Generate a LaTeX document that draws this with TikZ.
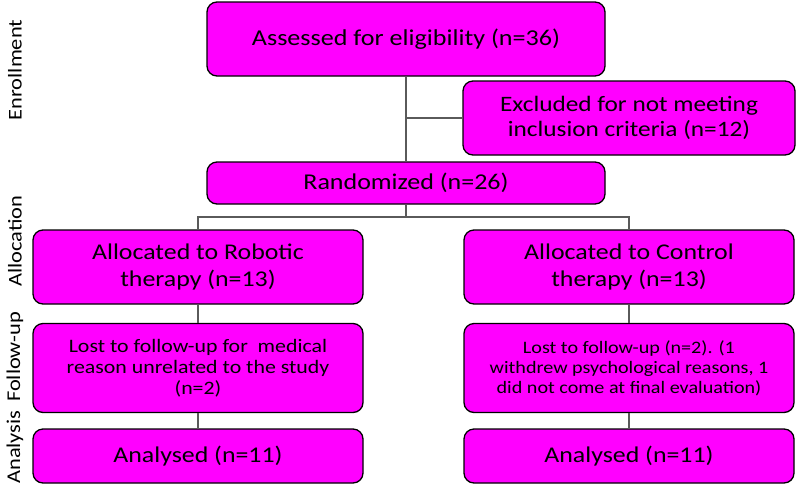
\documentclass[tikz,border=0pt]{standalone}
\usepackage{fontspec}
\setmainfont{Carlito}[FakeStretch=1.15]
\usetikzlibrary{positioning}
\definecolor{boxmag}{RGB}{255,0,255}
\definecolor{linegray}{RGB}{90,90,90}

\begin{document}
\begin{tikzpicture}[x=1pt,y=-1pt,every node/.style={inner sep=0pt,align=center},
	box/.style={draw=black,line width=1.3pt,fill=boxmag,rounded corners=10pt,text=black},
	phase/.style={rotate=90,font=\fontsize{19.5}{22}\selectfont},
	link/.style={draw=linegray,line width=1.2pt}]

\useasboundingbox (0,0) rectangle (797,488);

% enrollment
\node[box,minimum width=398,minimum height=74,font=\fontsize{22.7}{27}\selectfont] (assess) at (406,39) {Assessed for eligibility (n=36)};
 \node[box,minimum width=332,minimum height=74,font=\fontsize{22}{25}\selectfont] (excl) at (629,118) {Excluded for not meeting\\inclusion criteria (n=12)};
	\node[box,minimum width=398,minimum height=42,font=\fontsize{22.6}{27}\selectfont] (rand) at (406,183) {Randomized (n=26)};

% two arms
	\node[box,minimum width=330,minimum height=74,font=\fontsize{22.5}{27}\selectfont] (robot) at (198,267) {Allocated to Robotic\\therapy (n=13)};
	\node[box,minimum width=330,minimum height=74,font=\fontsize{22.5}{27}\selectfont] (ctrl) at (629,267) {Allocated to Control\\therapy (n=13)};
		\node[box,minimum width=330,minimum height=89,font=\fontsize{19}{21}\selectfont] (lostR) at (198,368) {Lost to follow-up for\ \ medical\\reason unrelated to the study\\(n=2)};
		\node[box,minimum width=330,minimum height=89,font=\fontsize{17.5}{20}\selectfont] (lostC) at (629,368) {Lost to follow-up (n=2). (1\\withdrew psychological reasons, 1\\did not come at final evaluation)};
			\node[box,minimum width=330,minimum height=54,font=\fontsize{22.5}{27}\selectfont] (anaR) at (198,456) {Analysed (n=11)};
			\node[box,minimum width=330,minimum height=54,font=\fontsize{22.5}{27}\selectfont] (anaC) at (629,456) {Analysed (n=11)};

% phase labels
\node[phase] (enr) at (15,70) {Enrollment};
\node[phase] (alloc) at (15,241) {Allocation};
\node[phase] (fup) at (15,357) {Follow-up};
\node[phase] (anal) at (15,447) {Analysis};

\coordinate (side) at (assess.south |- excl.west);
\coordinate (split) at (406,217);

	\draw[link] (assess) -- (rand);
	\draw[link] (side) -- (excl.west);
	\draw[link] (rand) -- (split);
	\draw[link] (robot.north) |- (split) -| (ctrl.north);
	\draw[link] (robot) -- (lostR);
	\draw[link] (lostR) -- (anaR);
	\draw[link] (ctrl) -- (lostC);
	\draw[link] (lostC) -- (anaC);

\end{tikzpicture}
\end{document}
